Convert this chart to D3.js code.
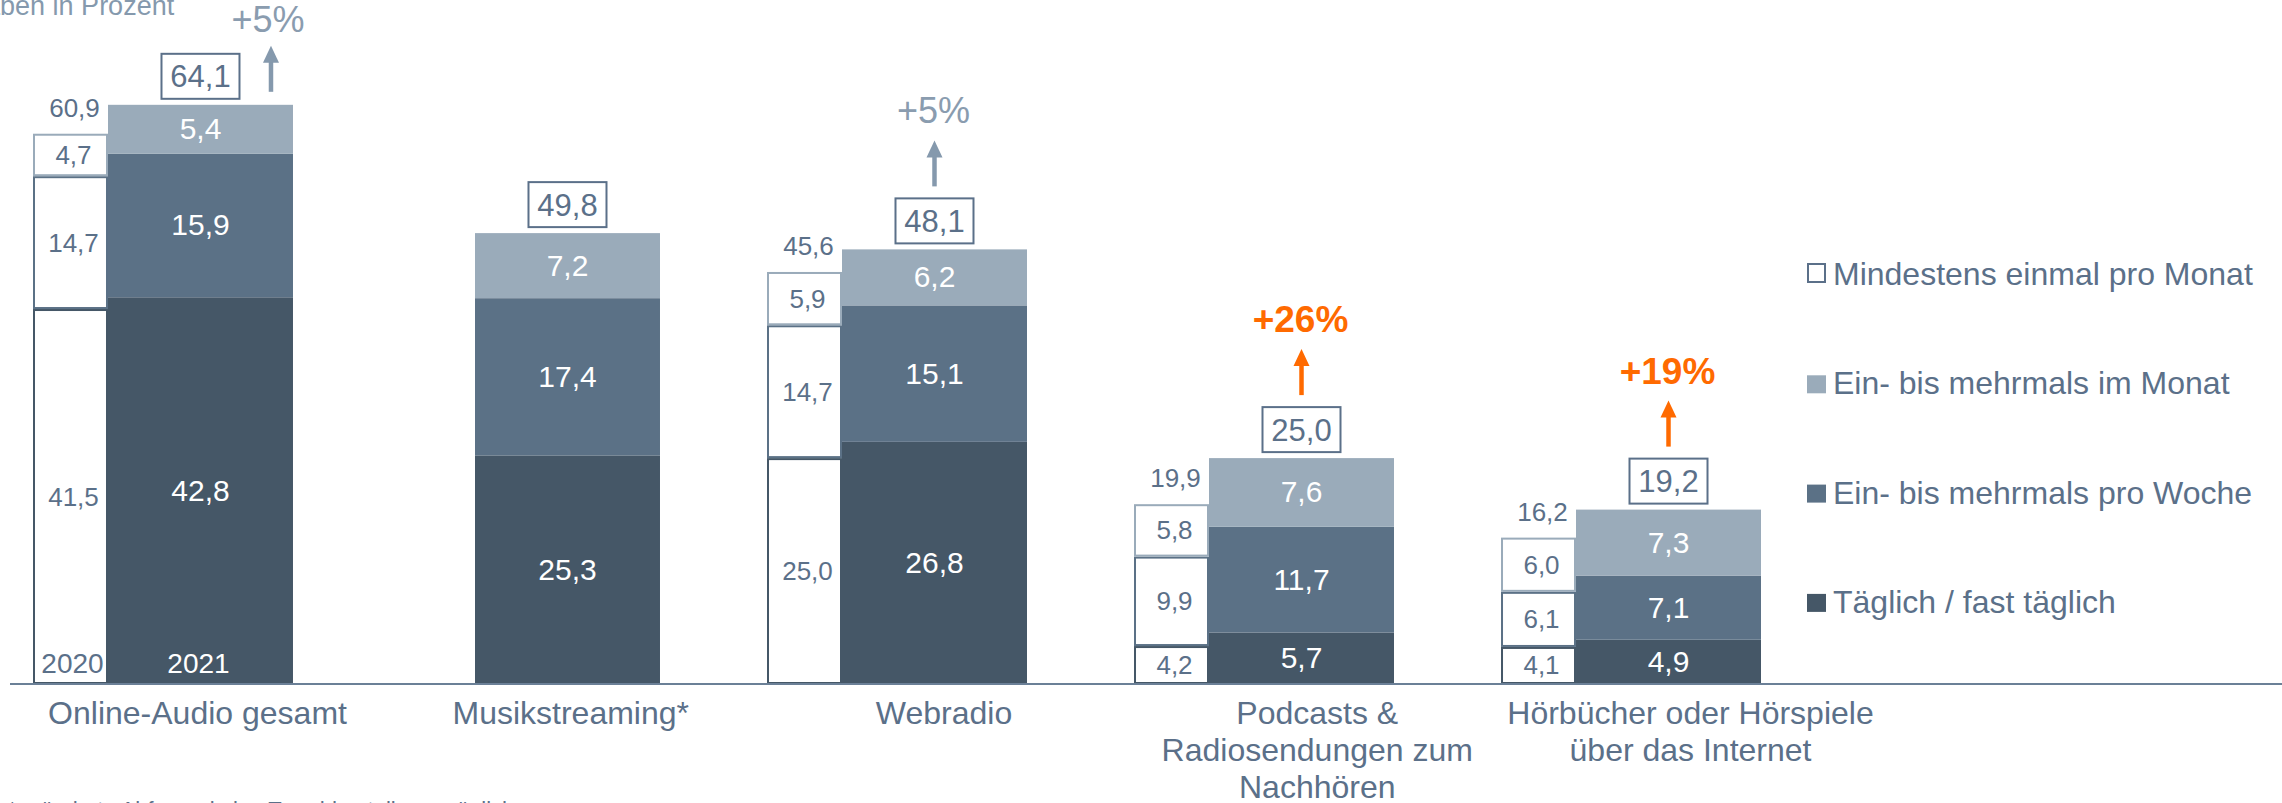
<!DOCTYPE html>
<html>
<head>
<meta charset="utf-8">
<script src="https://cdn.jsdelivr.net/npm/d3@7"></script>
<style>
  html, body { margin: 0; padding: 0; background: #ffffff; overflow: hidden; }
  svg { display: block; font-family: "Liberation Sans", Arial, sans-serif; }
</style>
</head>
<body>
<script>
// ---------------- DATA ----------------
const categories = ["Online-Audio gesamt", "Musikstreaming*", "Webradio",
  "Podcasts & Radiosendungen zum Nachhören", "Hörbücher oder Hörspiele über das Internet"];
const categoryLines = [["Online-Audio gesamt"], ["Musikstreaming*"], ["Webradio"],
  ["Podcasts &", "Radiosendungen zum", "Nachhören"], ["Hörbücher oder Hörspiele", "über das Internet"]];
const seriesKeys = ["daily", "weekly", "monthly"];
const daily2021   = [42.8, 25.3, 26.8, 5.7, 4.9];
const weekly2021  = [15.9, 17.4, 15.1, 11.7, 7.1];
const monthly2021 = [5.4, 7.2, 6.2, 7.6, 7.3];
const total2021   = [64.1, 49.8, 48.1, 25.0, 19.2];
const daily2020   = [41.5, null, 25.0, 4.2, 4.1];
const weekly2020  = [14.7, null, 14.7, 9.9, 6.1];
const monthly2020 = [4.7, null, 5.9, 5.8, 6.0];
const total2020   = [60.9, null, 45.6, 19.9, 16.2];
const growth = ["+5%", null, "+5%", "+26%", "+19%"];
const growthHighlight = [false, false, false, true, true];
const yearLabels = ["2020", "2021"];
const legendLabels = ["Mindestens einmal pro Monat", "Ein- bis mehrmals im Monat",
  "Ein- bis mehrmals pro Woche", "Täglich / fast täglich"];
const subtitle = "Angaben in Prozent";
const footnote = "*geänderte Abfrage, keine Trenddarstellung möglich";

// ---------------- STYLE ----------------
const W = 2282, H = 803;
const colors = { daily: "#455767", weekly: "#5b7186", monthly: "#9aabba" };
const textColor = "#5b7089";
const grayArrow = "#8599ad";
const orange = "#ff6a00";
const fmt = v => d3.format(".1f")(v).replace(".", ",");

const svg = d3.select("body").append("svg").attr("width", W).attr("height", H);
svg.append("rect").attr("width", W).attr("height", H).attr("fill", "#fff");

// ---------------- SCALES ----------------
const y = d3.scaleLinear().domain([0, 75.7]).range([684, 0]);
const xGroup = d3.scaleBand().domain(categories).range([33, 1761]).paddingInner(0.2916).paddingOuter(0);
const xLabel = d3.scalePoint().domain(categories).range([197, 1690]);
const w2020 = xGroup.bandwidth() * 75 / 260;
const w2021 = xGroup.bandwidth() - w2020;

const rows2021 = categories.map((c, i) => ({ cat: c, i, daily: daily2021[i], weekly: weekly2021[i], monthly: monthly2021[i] }));
const rows2020 = categories.map((c, i) => ({ cat: c, i, daily: daily2020[i] || 0, weekly: weekly2020[i] || 0, monthly: monthly2020[i] || 0 }));
const stack = d3.stack().keys(seriesKeys);
const st2021 = stack(rows2021);
const st2020 = stack(rows2020);

// subtitle (partly cut off at the left edge, like the reference)
svg.append("text").attr("x", -63).attr("y", 15).attr("font-size", 27)
  .attr("fill", "#8599ad").text(subtitle);

// ---------------- 2020 BARS (hollow) ----------------
const g2020 = svg.append("g");
st2020.forEach(layer => {
  const key = layer.key;
  g2020.selectAll(null).data(layer.filter(d => d.data[key] > 0)).enter().append("rect")
    .attr("x", d => xGroup(d.data.cat) + 1)
    .attr("y", d => y(d[1]) + 1)
    .attr("width", w2020 - 2)
    .attr("height", d => y(d[0]) - y(d[1]) - 2)
    .attr("fill", "#fff")
    .attr("stroke", colors[key]).attr("stroke-width", 2);
  g2020.selectAll(null).data(layer.filter(d => d.data[key] > 0)).enter().append("text")
    .attr("x", d => xGroup(d.data.cat) + w2020 / 2 + 3)
    .attr("y", d => (y(d[0]) + y(d[1])) / 2 + 9)
    .attr("text-anchor", "middle").attr("font-size", 26).attr("fill", textColor)
    .text(d => fmt(d.data[key]));
});
// 2020 totals
svg.selectAll(null).data(categories.map((c, i) => ({ c, i })).filter(d => total2020[d.i] != null)).enter()
  .append("text")
  .attr("x", d => xGroup(d.c) + w2020 / 2 + 4)
  .attr("y", d => y(total2020[d.i]) - 17)
  .attr("text-anchor", "middle").attr("font-size", 26).attr("fill", textColor)
  .text(d => fmt(total2020[d.i]));

// ---------------- 2021 BARS ----------------
const g2021 = svg.append("g");
st2021.forEach(layer => {
  const key = layer.key;
  g2021.selectAll(null).data(layer).enter().append("rect")
    .attr("x", d => xGroup(d.data.cat) + w2020)
    .attr("y", d => y(d[1]))
    .attr("width", w2021)
    .attr("height", d => y(d[0]) - y(d[1]))
    .attr("fill", colors[key]);
  g2021.selectAll(null).data(layer).enter().append("text")
    .attr("x", d => xGroup(d.data.cat) + w2020 + w2021 / 2)
    .attr("y", d => (y(d[0]) + y(d[1])) / 2 + 10)
    .attr("text-anchor", "middle").attr("font-size", 30).attr("fill", "#fff")
    .text(d => fmt(d.data[key]));
});

// year labels inside first group
svg.append("text").attr("x", xGroup(categories[0]) + w2020 / 2 + 2).attr("y", y(0) - 11)
  .attr("text-anchor", "middle").attr("font-size", 28).attr("fill", textColor).text(yearLabels[0]);
svg.append("text").attr("x", xGroup(categories[0]) + w2020 + w2021 / 2 - 2).attr("y", y(0) - 11)
  .attr("text-anchor", "middle").attr("font-size", 28).attr("fill", "#fff").text(yearLabels[1]);

// ---------------- TOTAL BOXES, ARROWS, GROWTH ----------------
const topStack = st2021[st2021.length - 1];
categories.forEach((c, i) => {
  const barTop = y(topStack[i][1]);
  const cx = xGroup(c) + w2020 + w2021 / 2;
  const bw = 78, bh = 45;
  const boxTop = barTop - 6 - bh;
  svg.append("rect").attr("x", cx - bw / 2).attr("y", boxTop).attr("width", bw).attr("height", bh)
    .attr("fill", "#fff").attr("stroke", textColor).attr("stroke-width", 2);
  svg.append("text").attr("x", cx).attr("y", boxTop + bh / 2 + 11)
    .attr("text-anchor", "middle").attr("font-size", 31).attr("fill", textColor)
    .text(fmt(total2021[i]));

  if (!growth[i]) return;
  const col = growthHighlight[i] ? orange : grayArrow;
  let ax, aBottom;
  const side = boxTop - 12 - 45 - 17 - 26 < 0;
  if (side) { ax = xGroup(c) + w2020 + w2021 - 22; aBottom = barTop - 13; }
  else { ax = cx; aBottom = boxTop - 12; }
  const aTip = aBottom - 46;
  svg.append("line").attr("x1", ax).attr("x2", ax).attr("y1", aBottom).attr("y2", aTip + 14)
    .attr("stroke", col).attr("stroke-width", 4.5);
  svg.append("path").attr("d", `M${ax - 8},${aTip + 17} L${ax},${aTip} L${ax + 8},${aTip + 17} Z`).attr("fill", col);
  svg.append("text").attr("x", ax - (side ? 3 : 1)).attr("y", aTip - (side ? 14 : 17))
    .attr("text-anchor", "middle")
    .attr("font-size", growthHighlight[i] ? 37 : 36)
    .attr("font-weight", growthHighlight[i] ? "bold" : "normal")
    .attr("fill", growthHighlight[i] ? orange : "#8a9caf")
    .text(growth[i]);
});

// ---------------- AXIS ----------------
svg.append("line").attr("x1", 10).attr("x2", W).attr("y1", y(0)).attr("y2", y(0))
  .attr("stroke", "#6b8097").attr("stroke-width", 2);

const xAxisG = svg.append("g").attr("transform", `translate(0,${y(0)})`)
  .call(d3.axisBottom(xLabel).tickSize(0).tickFormat(""));
xAxisG.select(".domain").remove();
xAxisG.selectAll(".tick").each(function (d, i) {
  const t = d3.select(this).append("text").attr("fill", textColor).attr("font-size", 32)
    .attr("text-anchor", "middle");
  categoryLines[i].forEach((ln, k) => {
    t.append("tspan").attr("x", 0).attr("y", 40 + k * 37).text(ln);
  });
});

// ---------------- LEGEND ----------------
const legendFill = ["#fff", colors.monthly, colors.weekly, colors.daily];
const lg = svg.append("g");
legendLabels.forEach((lab, i) => {
  const by = 285 + i * 109.3;
  if (i === 0) {
    lg.append("rect").attr("x", 1808).attr("y", by - 21).attr("width", 17).attr("height", 18)
      .attr("fill", "#fff").attr("stroke", textColor).attr("stroke-width", 2);
  } else {
    lg.append("rect").attr("x", 1807).attr("y", by - 19).attr("width", 19).attr("height", 18)
      .attr("fill", legendFill[i]);
  }
  lg.append("text").attr("x", 1833).attr("y", by).attr("font-size", 32).attr("fill", textColor).text(lab);
});

// footnote (mostly cut off at bottom edge)
svg.append("text").attr("x", 8).attr("y", 817).attr("font-size", 22).attr("fill", textColor).text(footnote);
</script>
</body>
</html>
